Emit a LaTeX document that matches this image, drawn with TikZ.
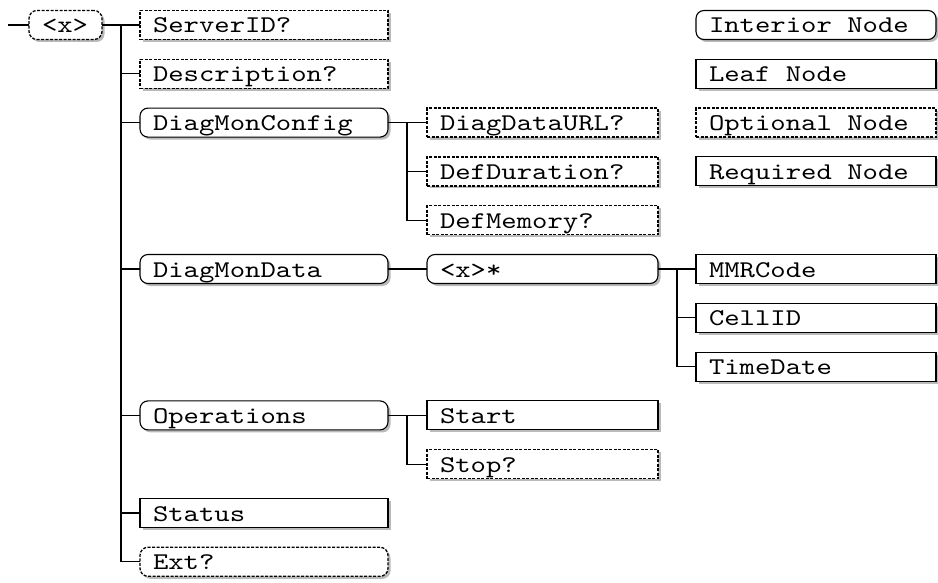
\documentclass[tikz,border=0pt]{standalone}
\usepackage{fontspec}
\usetikzlibrary{shadows}
\newfontfamily\boxfont{lmmono10-regular.otf}[FakeStretch=1.22]
\newcommand\boxfontsized{\fontsize{24pt}{26pt}\boxfont}
\newcommand\msp{\hspace*{15.37pt}}
\tikzset{
  tbox/.style={draw=black, line width=1.1pt, fill=white, anchor=west,
    minimum height=29pt, inner xsep=13pt, inner ysep=0pt, outer sep=0pt,
    align=left, text height=16pt, text depth=0pt, font=\boxfontsized,
    drop shadow={shadow xshift=2.5pt, shadow yshift=-2.5pt, fill=black!45, opacity=0.6}},
  interior/.style={tbox, rounded corners=8pt},
  leafbox/.style={tbox},
  optional/.style={dash pattern=on 3pt off 1.5pt, line width=1.3pt},
  wroot/.style={text width=47pt},
  wone/.style={text width=222pt},
  wtwo/.style={text width=205pt},
  wthree/.style={text width=214pt},
  link/.style={line width=1.1pt, draw=black},
}
\begin{document}
\begin{tikzpicture}[x=1pt,y=-1pt]
\useasboundingbox (0,0) rectangle (938,583);
\fill[white] (0,0) rectangle (938,583);
% rows
\def\rA{25}\def\rB{73.8}\def\rC{122.6}\def\rD{171.4}\def\rE{220.2}\def\rF{269}
\def\rG{317.8}\def\rH{366.6}\def\rI{415.4}\def\rJ{464.2}\def\rK{513}\def\rL{561.8}
% root
\node[interior, optional, wroot] (root) at (29,\rA) {<x>};
% level 1
\node[leafbox, optional, wone] (sid) at (140,\rA) {ServerID?};
\node[leafbox, optional, wone] (desc) at (140,\rB) {Description?};
\node[interior, wone] (dmc) at (140,\rC) {DiagMonConfig};
\node[interior, wone] (dmd) at (140,\rF) {DiagMonData};
\node[interior, wone] (ops) at (140,\rI) {Operations};
\node[leafbox, wone] (status) at (140,\rK) {Status};
\node[interior, optional, wone] (ext) at (140,\rL) {Ext?};
% level 2
\node[leafbox, optional, wtwo] (ddu) at (427,\rC) {DiagDataURL?};
\node[leafbox, optional, wtwo] (ddur) at (427,\rD) {DefDuration?};
\node[leafbox, optional, wtwo] (dmem) at (427,\rE) {DefMemory?};
\node[interior, wtwo] (xs) at (427,\rF) {<x>*};
\node[leafbox, wtwo] (start) at (427,\rI) {Start};
\node[leafbox, optional, wtwo] (stop) at (427,\rJ) {Stop?};
% level 3
\node[leafbox, wthree] (mmr) at (696,\rF) {MMRCode};
\node[leafbox, wthree] (cell) at (696,\rG) {CellID};
\node[leafbox, wthree] (td) at (696,\rH) {TimeDate};
% legend
\node[interior, wthree] (lint) at (696,\rA) {Interior\msp Node};
\node[leafbox, wthree] (lleaf) at (696,\rB) {Leaf\msp Node};
\node[leafbox, optional, wthree] (lopt) at (696,\rC) {Optional\msp Node};
\node[leafbox, wthree] (lreq) at (696,\rD) {Required\msp Node};
% trunk coordinates
\coordinate (in) at (8,\rA);
\coordinate (t1) at (121,\rA);
\coordinate (t2) at (407,\rC);
\coordinate (t3) at (677,\rF);
\coordinate (t4) at (407,\rI);
% connectors
\draw[link] (in) -- (root.west);
\draw[link] (root.east) -- (sid.west);
\draw[link] (t1) |- (desc.west);
\draw[link] (t1) |- (dmc.west);
\draw[link] (t1) |- (dmd.west);
\draw[link] (t1) |- (ops.west);
\draw[link] (t1) |- (status.west);
\draw[link] (t1) |- (ext.west);
\draw[link] (dmc.east) -- (ddu.west);
\draw[link] (t2) |- (ddur.west);
\draw[link] (t2) |- (dmem.west);
\draw[link] (dmd.east) -- (xs.west);
\draw[link] (xs.east) -- (mmr.west);
\draw[link] (t3) |- (cell.west);
\draw[link] (t3) |- (td.west);
\draw[link] (ops.east) -- (start.west);
\draw[link] (t4) |- (stop.west);
\end{tikzpicture}
\end{document}
